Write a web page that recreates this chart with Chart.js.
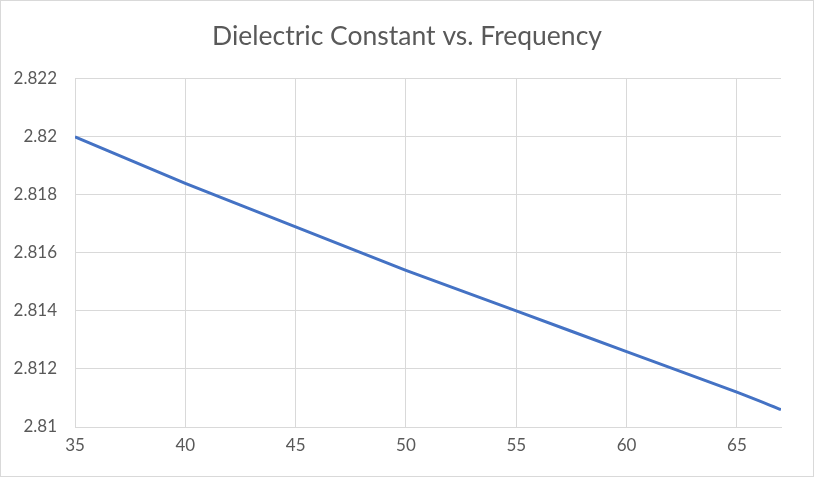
<!DOCTYPE html>
<html>
<head>
<meta charset="utf-8">
<script src="https://cdn.jsdelivr.net/npm/chart.js@4"></script>
<style>
html,body{margin:0;padding:0;background:#fff;}
#wrap{width:814px;height:477px;position:relative;}
</style>
</head>
<body>
<div id="wrap"><canvas id="c" width="814" height="477"></canvas></div>
<script>
const frequency = [35, 40, 45, 50, 55, 60, 65, 67];
const dielectricConstant = [2.8200, 2.8184, 2.8169, 2.8154, 2.8140, 2.8126, 2.8112, 2.8106];
const xTicks = [35, 40, 45, 50, 55, 60, 65];
const yTicks = [2.81, 2.812, 2.814, 2.816, 2.818, 2.82, 2.822];
const chartTitle = 'Dielectric Constant vs. Frequency';

const borderPlugin = {
  id: 'outerBorder',
  beforeDraw(chart) {
    const ctx = chart.ctx;
    ctx.save();
    ctx.fillStyle = '#ffffff';
    ctx.fillRect(0, 0, chart.width, chart.height);
    ctx.strokeStyle = '#d9d9d9';
    ctx.lineWidth = 1;
    ctx.strokeRect(0.5, 0.5, chart.width - 1, chart.height - 1);
    ctx.restore();
  }
};

new Chart(document.getElementById('c'), {
  type: 'line',
  data: {
    datasets: [{
      data: frequency.map((f, i) => ({x: f, y: dielectricConstant[i]})),
      borderColor: '#4472C4',
      borderWidth: 3,
      pointRadius: 0,
      tension: 0.2,
      fill: false
    }]
  },
  options: {
    responsive: false,
    animation: false,
    devicePixelRatio: 1,
    layout: {padding: 0},
    plugins: {
      legend: {display: false},
      tooltip: {enabled: false},
      title: {
        display: true,
        text: chartTitle,
        color: '#595959',
        font: {family: 'Lato', size: 26.5, weight: 'normal'},
        padding: {top: 21, bottom: 26}
      }
    },
    scales: {
      x: {
        type: 'linear',
        min: 35,
        max: 67,
        afterBuildTicks(axis) { axis.ticks = xTicks.map(v => ({value: v})); },
        afterFit(axis) { axis.height = 50; },
        grid: {color: '#d9d9d9', lineWidth: 1, drawTicks: false},
        border: {color: '#d9d9d9', width: 1},
        ticks: {color: '#595959', font: {family: 'Lato', size: 17}, padding: 8, maxRotation: 0}
      },
      y: {
        type: 'linear',
        min: 2.81,
        max: 2.822,
        afterBuildTicks(axis) { axis.ticks = yTicks.map(v => ({value: v})); },
        afterFit(axis) { axis.width = 75; },
        grid: {color: '#d9d9d9', lineWidth: 1, drawTicks: false},
        border: {display: false},
        ticks: {
          color: '#595959',
          font: {family: 'Lato', size: 17},
          padding: 18,
          callback: v => String(parseFloat(v.toFixed(3)))
        }
      },
      yRightSpace: {
        type: 'linear',
        position: 'right',
        display: true,
        afterFit(axis) { axis.width = 33; },
        grid: {display: false, drawTicks: false},
        border: {display: false},
        ticks: {display: false}
      }
    }
  },
  plugins: [borderPlugin]
});
</script>
</body>
</html>
